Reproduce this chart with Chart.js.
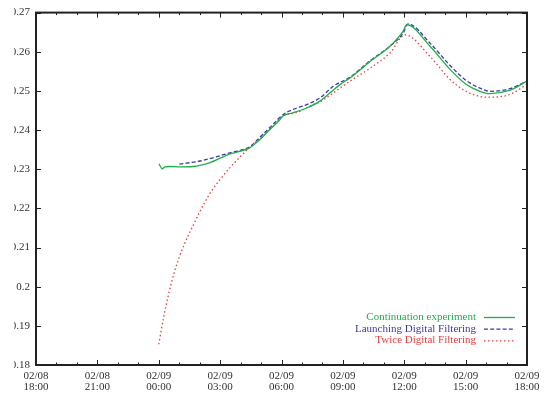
<!DOCTYPE html>
<html>
<head>
<meta charset="utf-8">
<script src="https://cdn.jsdelivr.net/npm/chart.js@4.4.1/dist/chart.umd.min.js"></script>
<style>
  body { margin: 0; background: #fff; }
  canvas { display: block; }
</style>
</head>
<body>
<canvas id="chart" width="549" height="394"></canvas>
<script>
// hours counted from 02/08 00:00
var xTicks = [18, 21, 24, 27, 30, 33, 36, 39, 42];
var yTicks = [0.18, 0.19, 0.2, 0.21, 0.22, 0.23, 0.24, 0.25, 0.26, 0.27];

var seriesNames = ["Continuation experiment", "Launching Digital Filtering", "Twice Digital Filtering"];

var contHours = [24.01, 24.17, 24.31, 24.55, 25.04, 25.67, 26.51, 27.48, 28.46, 28.95, 29.44, 29.93, 30.07,
  30.56, 31.25, 31.88, 32.37, 32.86, 33.35, 34.33, 35.30, 35.94, 36.12, 37.26, 38.24, 39.02, 39.70, 40.19, 41.17, 42.0];
var contValues = [0.2314, 0.2301, 0.2306, 0.2307, 0.2306, 0.2307, 0.2317, 0.2339, 0.2355, 0.2376, 0.2402, 0.2427, 0.2436,
  0.2444, 0.2457, 0.2474, 0.2495, 0.2516, 0.2533, 0.2575, 0.2614, 0.2652, 0.2669, 0.2614, 0.2555, 0.2517, 0.2499, 0.2493, 0.2502, 0.2525];

var launchHours = [25.01, 26.02, 27.48, 28.46, 28.95, 29.44, 30.09, 30.58, 31.23, 31.88, 32.53, 33.35, 34.33,
  35.30, 35.94, 36.18, 37.26, 38.24, 39.02, 39.70, 40.19, 41.17, 42.0];
var launchValues = [0.2313, 0.2321, 0.2342, 0.2358, 0.2382, 0.2407, 0.2440, 0.2453, 0.2465, 0.2482, 0.2512, 0.2535, 0.2577,
  0.2614, 0.2647, 0.2671, 0.2622, 0.2565, 0.2527, 0.2507, 0.2499, 0.2506, 0.2525];

var twiceHours = [24.0, 24.25, 24.5, 24.75, 25.0, 25.25, 25.5, 25.75, 26.0, 26.5, 27.0, 27.5, 28.0, 28.5, 29.0,
  29.5, 30.07, 30.56, 30.90, 31.39, 31.88, 32.37, 33.35, 34.33, 35.30, 36.04, 37.26, 38.24, 39.02, 39.70, 40.19, 41.17, 42.0];
var twiceValues = [0.1853, 0.1925, 0.1985, 0.2035, 0.2075, 0.2108, 0.2137, 0.2164, 0.2191, 0.2238, 0.2274, 0.2305, 0.2333,
  0.2358, 0.2381, 0.2405, 0.2436, 0.2443, 0.2448, 0.2461, 0.2472, 0.2489, 0.2525, 0.2558, 0.2597, 0.2643, 0.2588, 0.2529,
  0.2499, 0.2486, 0.2484, 0.2491, 0.2517];

function toPoints(xs, ys) {
  return xs.map(function (x, i) { return { x: x, y: ys[i] }; });
}

var colors = ["#1fae4c", "#3a3aa6", "#ee3b3b"];
var dashes = [[], [4, 2.2], [1.5, 2.5]];

var frame = {
  id: "frame",
  beforeDraw: function (chart) {
    var ctx = chart.ctx;
    ctx.save();
    ctx.beginPath();
    ctx.rect(14, 0, chart.width - 14, chart.height);
    ctx.clip();
  },
  afterDraw: function (chart) {
    var ctx = chart.ctx;
    var a = chart.chartArea;
    var xs = chart.scales.x, ys = chart.scales.y;
    ctx.strokeStyle = "#222";
    ctx.lineWidth = 1;
    ctx.beginPath();
    // x ticks, hourly minors
    for (var h = xTicks[0]; h <= xTicks[xTicks.length - 1]; h++) {
      var px = Math.round(xs.getPixelForValue(h)) + 0.5;
      var len = (h % 3 === 0) ? 5 : 2.5;
      ctx.moveTo(px, a.bottom); ctx.lineTo(px, a.bottom - len);
      ctx.moveTo(px, a.top); ctx.lineTo(px, a.top + len);
    }
    yTicks.forEach(function (v) {
      var py = Math.round(ys.getPixelForValue(v)) + 0.5;
      ctx.moveTo(a.left, py); ctx.lineTo(a.left + 5, py);
      ctx.moveTo(a.right, py); ctx.lineTo(a.right - 5, py);
    });
    ctx.stroke();
    ctx.lineWidth = 2;
    ctx.strokeRect(a.left, a.top, a.right - a.left, a.bottom - a.top);

    // legend, bottom right inside the plot
    ctx.font = "11px 'Liberation Serif', serif";
    ctx.textAlign = "right";
    ctx.textBaseline = "middle";
    chart.data.datasets.forEach(function (ds, i) {
      var y = a.bottom - 48 + i * 11.7;
      ctx.fillStyle = ds.borderColor;
      ctx.fillText(ds.label, a.right - 51, y);
      ctx.strokeStyle = ds.borderColor;
      ctx.lineWidth = 1.3;
      ctx.setLineDash(ds.borderDash);
      ctx.beginPath();
      ctx.moveTo(a.right - 43, y + 0.5);
      ctx.lineTo(a.right - 12, y + 0.5);
      ctx.stroke();
      ctx.setLineDash([]);
    });
    ctx.restore();
  }
};

var config = {
  type: "line",
  data: {
    datasets: [
      { label: seriesNames[0], data: toPoints(contHours, contValues) },
      { label: seriesNames[1], data: toPoints(launchHours, launchValues) },
      { label: seriesNames[2], data: toPoints(twiceHours, twiceValues) }
    ].map(function (ds, i) {
      ds.borderColor = colors[i];
      ds.borderDash = dashes[i];
      ds.borderWidth = 1.3;
      ds.pointRadius = 0;
      ds.fill = false;
      ds.cubicInterpolationMode = "monotone";
      return ds;
    })
  },
  options: {
    responsive: false,
    animation: false,
    layout: { padding: { top: 11, right: 22, bottom: 0, left: 0 } },
    plugins: { legend: { display: false }, tooltip: { enabled: false } },
    scales: {
      x: {
        type: "linear",
        min: 18,
        max: 42,
        afterFit: function (s) { s.height = 29; },
        afterBuildTicks: function (s) { s.ticks = xTicks.map(function (v) { return { value: v }; }); },
        grid: { display: false, drawTicks: false },
        border: { display: false },
        ticks: {
          autoSkip: false,
          maxRotation: 0,
          padding: 6,
          color: "#333",
          font: { family: "'Liberation Serif', serif", size: 11, lineHeight: 0.95 },
          callback: function (v) {
            var d = 8 + Math.floor(v / 24);
            var hh = v % 24;
            return ["02/" + String(d).padStart(2, "0"), String(hh).padStart(2, "0") + ":00"];
          }
        }
      },
      y: {
        min: 0.18,
        max: 0.27,
        afterFit: function (s) { s.width = 36; },
        afterBuildTicks: function (s) { s.ticks = yTicks.map(function (v) { return { value: v }; }); },
        grid: { display: false, drawTicks: false },
        border: { display: false },
        ticks: {
          padding: 6,
          color: "#333",
          font: { family: "'Liberation Serif', serif", size: 11 },
          callback: function (v) { return String(Number(v.toFixed(2))); }
        }
      }
    }
  },
  plugins: [frame]
};

var chart = new Chart(document.getElementById("chart").getContext("2d"), config);
</script>
</body>
</html>
